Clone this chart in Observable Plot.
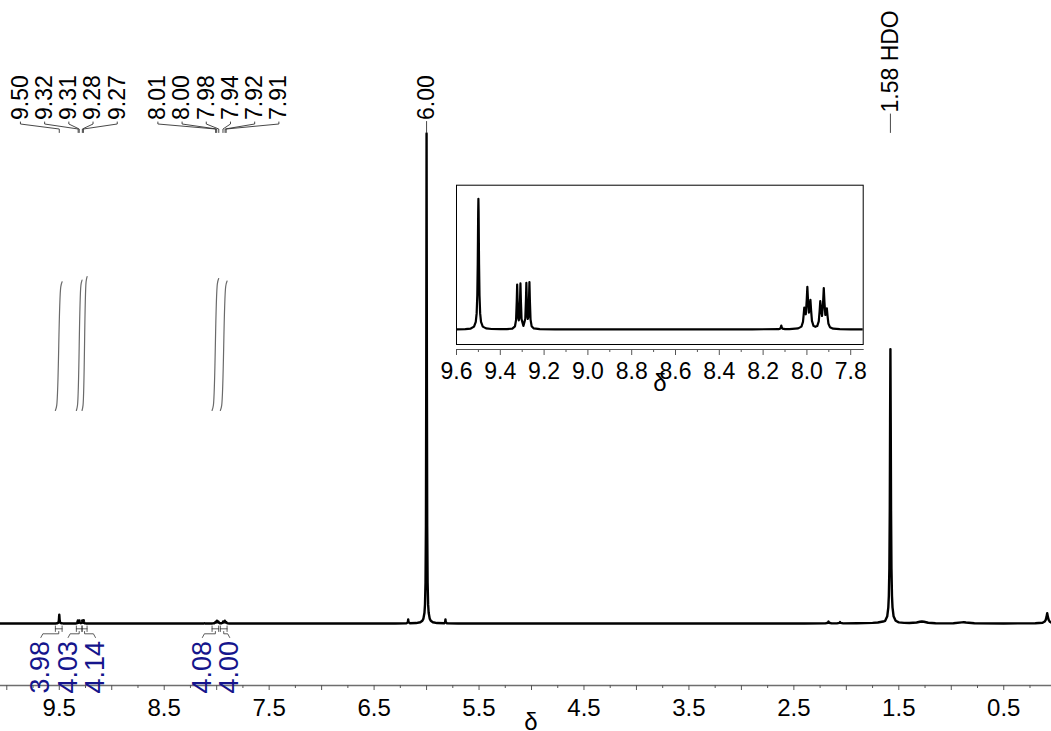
<!DOCTYPE html>
<html>
<head>
<meta charset="utf-8">
<script src="https://cdn.jsdelivr.net/npm/d3@7"></script>
<script src="https://cdn.jsdelivr.net/npm/@observablehq/plot@0.6"></script>
<style>
  html, body { margin: 0; padding: 0; background: #fff; }
  #chart { position: relative; width: 1051px; height: 731px; overflow: hidden; }
  #chart svg { position: absolute; }
</style>
</head>
<body>
<div id="chart"></div>
<script>
// ---------------- DATA ----------------
// spectrum points [chemical shift δ (ppm), relative intensity], main peak 6.00 = 100
const spectrumAromatic = [
  [10.06,0],[9.8,0.001],[9.6,0.003],[9.56,0.005],[9.535,0.013],[9.52,0.04],[9.512,0.106],[9.508,0.222],
  [9.505,0.476],[9.503,0.9],[9.502,1.246],[9.501,1.62],[9.5,1.8],[9.499,1.62],[9.498,1.246],[9.497,0.9],
  [9.495,0.476],[9.492,0.222],[9.488,0.106],[9.48,0.04],[9.465,0.015],[9.44,0.007],[9.4,0.004],[9.37,0.005],
  [9.345,0.013],[9.333,0.044],[9.328,0.133],[9.325,0.383],[9.323,0.62],[9.321,0.393],[9.318,0.16],[9.3155,0.126],
  [9.313,0.163],[9.31,0.40],[9.308,0.634],[9.306,0.394],[9.303,0.143],[9.2945,0.05],[9.286,0.145],[9.283,0.40],
  [9.281,0.643],[9.279,0.407],[9.276,0.174],[9.274,0.146],[9.272,0.175],[9.269,0.414],[9.267,0.654],[9.265,0.403],
  [9.262,0.14],[9.257,0.046],[9.247,0.015],[9.22,0.005],[9.15,0.003],[9.0,0.002],[8.8,0.002],[8.5,0.002],
  [8.25,0.003],[8.13,0.004],[8.122,0.012],[8.119,0.03],[8.117,0.055],[8.115,0.03],[8.112,0.012],[8.1,0.005],
  [8.08,0.006],[8.04,0.015],[8.025,0.04],[8.018,0.106],[8.015,0.197],[8.012,0.301],[8.009,0.235],[8.005,0.21],
  [8.001,0.397],[7.998,0.589],[7.995,0.404],[7.991,0.233],[7.987,0.303],[7.984,0.41],[7.981,0.267],[7.977,0.118],
  [7.97,0.05],[7.9615,0.037],[7.953,0.047],[7.946,0.112],[7.942,0.255],[7.939,0.39],[7.936,0.278],[7.931,0.186],
  [7.926,0.384],[7.923,0.571],[7.92,0.383],[7.916,0.2],[7.912,0.227],[7.909,0.291],[7.906,0.19],[7.902,0.083],
  [7.895,0.032],[7.88,0.011],[7.85,0.005],[7.8,0.003],[7.7,0.002]
];
const spectrumOlefinic = [
  [7.0,0.002],[6.6,0.005],[6.3,0.015],[6.19,0.05],[6.178,0.3],[6.175,0.85],[6.172,0.3],[6.16,0.06],
  [6.1,0.09],[6.06,0.25],[6.04,0.56],[6.03,1.0],[6.02,2.2],[6.015,3.85],[6.01,8.3],[6.006,20],[6.003,50],
  [6.0,100],[5.997,50],[5.994,20],[5.99,8.3],[5.985,3.85],[5.98,2.2],[5.97,1.0],[5.96,0.56],[5.94,0.25],
  [5.9,0.09],[5.83,0.06],[5.823,0.3],[5.82,0.85],[5.817,0.3],[5.805,0.04],[5.7,0.015],[5.4,0.005]
];
const spectrumAliphatic = [
  [5.0,0.003],[4.0,0.003],[3.0,0.003],[2.4,0.005],[2.2,0.03],[2.175,0.15],[2.17,0.4],[2.165,0.15],
  [2.14,0.03],[2.09,0.03],[2.065,0.12],[2.06,0.3],[2.055,0.12],[2.03,0.03],[1.9,0.04],[1.75,0.12],
  [1.7,0.2],[1.65,0.4],[1.63,0.55],[1.61,1.5],[1.6,3.3],[1.595,5.6],[1.59,11.2],[1.586,23],[1.583,41],
  [1.58,56],[1.577,41],[1.574,23],[1.57,11.2],[1.565,5.6],[1.56,3.3],[1.55,1.5],[1.53,0.55],[1.5,0.22],
  [1.45,0.12],[1.4,0.1],[1.33,0.2],[1.3,0.35],[1.28,0.42],[1.26,0.35],[1.22,0.15],[1.15,0.06],[1.05,0.03],
  [0.98,0.05],[0.9,0.22],[0.88,0.26],[0.86,0.2],[0.78,0.04],[0.5,0.01],[0.3,0.02],[0.2,0.05],[0.13,0.15],
  [0.11,0.4],[0.1,0.75],[0.093,1.3],[0.086,2.1],[0.079,1.3],[0.072,0.75],[0.06,0.35],[0.045,0.15]
];

// peak labels
const topLabelText  = ["9.50","9.32","9.31","9.28","9.27","8.01","8.00","7.98","7.94","7.92","7.91"];
const topLabelShift = [9.50, 9.32, 9.31, 9.28, 9.27, 8.01, 8.00, 7.98, 7.94, 7.92, 7.91];
const topLabelGroup = [0, 0, 0, 0, 0, 1, 1, 1, 1, 1, 1];
const singleLabelText  = ["6.00", "1.58 HDO"];
const singleLabelShift = [6.00, 1.58];

// integrals
const integralValue = [3.98, 4.03, 4.14, 4.08, 4.00];
const integralStart = [9.537, 9.337, 9.283, 8.044, 7.965];
const integralEnd   = [9.473, 9.283, 9.235, 7.981, 7.901];
const integralGroup = [0, 0, 0, 1, 1];

// axis ticks
const mainTickLabels   = [9.5, 8.5, 7.5, 6.5, 5.5, 4.5, 3.5, 2.5, 1.5, 0.5];
const mainIntegerTicks = [10, 9, 8, 7, 6, 5, 4, 3, 2, 1];
const mainQuarterTicks = [9.75, 9.25, 8.75, 8.25, 7.75, 7.25, 6.75, 6.25, 5.75, 5.25, 4.75, 4.25, 3.75, 3.25, 2.75, 2.25, 1.75, 1.25, 0.75, 0.25];
const insetTickLabels  = [9.6, 9.4, 9.2, 9.0, 8.8, 8.6, 8.4, 8.2, 8.0, 7.8];
const insetMinorTicks  = [9.5, 9.3, 9.1, 8.9, 8.7, 8.5, 8.3, 8.1, 7.9];

// ---------------- LAYOUT ----------------
const W = 1051, H = 731;
const AXIS_Y = 685;
const xDomain = [10.06, 0.045];
const yDomain = [0, 100];
const yRange = [623, 133];
const insetDomain = [9.6, 7.743];
const FONT = "'Liberation Sans', Arial, Helvetica, sans-serif";
const INTEGRAL_BLUE = "#15158c";

const xMain = d3.scaleLinear(xDomain, [0, W]);
const yMain = d3.scaleLinear(yDomain, yRange);

const spectrum = [...spectrumAromatic, ...spectrumOlefinic, ...spectrumAliphatic]
  .map(([shift, intensity]) => ({shift, intensity}));
const insetSpectrum = spectrum.filter(d => d.shift <= 9.7 && d.shift >= 7.65);

function spreadPx(centersPx, spacing, offset) {
  const mid = (d3.min(centersPx) + d3.max(centersPx)) / 2 + offset;
  return centersPx.map((_, i) => mid + (i - (centersPx.length - 1) / 2) * spacing);
}

// top peak labels
const topLabels = [];
for (const g of [0, 1]) {
  const idx = topLabelGroup.map((gg, i) => (gg === g ? i : -1)).filter(i => i >= 0);
  const lx = spreadPx(idx.map(i => xMain(topLabelShift[i])), 24.2, -2.5);
  idx.forEach((i, k) => topLabels.push({text: topLabelText[i], shift: topLabelShift[i], lx: lx[k], y0: 119.5, bend: true}));
}
const singleY = [119.5, 112];
singleLabelText.forEach((t, i) => topLabels.push({text: t, shift: singleLabelShift[i], lx: xMain(singleLabelShift[i]), y0: singleY[i], bend: false}));

const topConnectors = topLabels.flatMap((d, i) => {
  const px = xMain(d.shift);
  const pts = d.bend
    ? [[d.lx, 121.5], [d.lx, 123.5], [px, 128.5], [px, 132]]
    : [[px, d.y0 + 1.5], [px, 132]];
  return pts.map(([x, y]) => ({id: i, x: xMain.invert(x), y: yMain.invert(y)}));
});

// integrals
const INT_BASE = 410, INT_PX_PER_UNIT = 32.35;
const integralCurves = integralValue.flatMap((v, i) => {
  const s = integralStart[i], e = integralEnd[i], w = s - e;
  const h = v * INT_PX_PER_UNIT;
  return [[s, 0], [s - 0.2 * w, 0.04], [e + 0.2 * w, 0.96], [e, 1]]
    .map(([x, f]) => ({id: i, x, y: yMain.invert(INT_BASE - f * h)}));
});

const intLabels = [];
for (const g of [0, 1]) {
  const idx = integralGroup.map((gg, i) => (gg === g ? i : -1)).filter(i => i >= 0);
  const centers = idx.map(i => (xMain(integralStart[i]) + xMain(integralEnd[i])) / 2);
  const lx = spreadPx(centers, 27.3, -3.5);
  idx.forEach((i, k) => intLabels.push({text: integralValue[i].toFixed(2), lx: lx[k], c: centers[k], s: xMain(integralStart[i]), e: xMain(integralEnd[i])}));
}
const intMarks = intLabels.flatMap((d, i) => {
  const sign = d.c > d.lx ? 1 : -1;
  const segs = [
    [[d.s, 625.5], [d.s, 631]],
    [[d.e, 625.5], [d.e, 631]],
    [[d.s, 628.3], [d.e, 628.3]],
    [[d.c, 631], [d.c, 633.3], [d.lx + sign * 2, 633.3], [d.lx, 637]]
  ];
  return segs.flatMap((seg, j) => seg.map(([x, y]) => ({id: i * 10 + j, x: xMain.invert(x), y: yMain.invert(y)})));
});

// ---------------- MAIN PLOT ----------------
const main = Plot.plot({
  width: W, height: H,
  marginTop: 0, marginRight: 0, marginBottom: H - AXIS_Y, marginLeft: 0,
  x: {domain: xDomain, range: [0, W], label: null},
  y: {domain: yDomain, range: yRange, axis: null, label: null},
  style: {fontFamily: FONT, fontSize: "23px", background: "transparent", overflow: "hidden"},
  marks: [
    Plot.frame({anchor: "bottom", stroke: "#6e6e6e", strokeWidth: 1.5}),
    Plot.axisX({ticks: mainTickLabels, tickSize: 5, tickPadding: 8, tickFormat: d => d.toFixed(1), fontSize: 24, stroke: "#555"}),
    Plot.axisX({ticks: mainIntegerTicks, tickSize: 5, tickFormat: () => "", stroke: "#555"}),
    Plot.axisX({ticks: mainQuarterTicks, tickSize: 3, tickFormat: () => "", stroke: "#555"}),
    Plot.text(["δ"], {frameAnchor: "bottom", text: d => d, dx: 5, dy: 44, fontSize: 24, fill: "black"}),
    Plot.line(integralCurves, {x: "x", y: "y", z: "id", stroke: "#6a6a6a", strokeWidth: 1.2, curve: "catmull-rom"}),
    Plot.line(intMarks, {x: "x", y: "y", z: "id", stroke: "#333", strokeWidth: 0.8}),
    Plot.line(spectrum, {x: "shift", y: "intensity", stroke: "black", strokeWidth: 2.4, strokeLinejoin: "round"}),
    Plot.line(topConnectors, {x: "x", y: "y", z: "id", stroke: "#333", strokeWidth: 0.9}),
    Plot.text(topLabels, {x: d => xMain.invert(d.lx), y: d => yMain.invert(d.y0), text: "text", rotate: -90, textAnchor: "start", fontSize: 23, fill: "black"}),
    Plot.text(intLabels, {x: d => xMain.invert(d.lx), y: () => yMain.invert(693), text: "text", rotate: -90, textAnchor: "start", fontSize: 27, fill: INTEGRAL_BLUE})
  ]
});
main.style.left = "0px";
main.style.top = "0px";

// ---------------- INSET ----------------
const inset = Plot.plot({
  width: 430, height: 220,
  marginTop: 4.7, marginRight: 7.3, marginBottom: 51, marginLeft: 16,
  x: {domain: insetDomain, label: null},
  y: {domain: [0, 1.8], range: [149, 18.3], axis: null, label: null},
  style: {fontFamily: FONT, fontSize: "23px", background: "white"},
  marks: [
    Plot.line(insetSpectrum, {x: "shift", y: "intensity", stroke: "black", strokeWidth: 2.2, strokeLinejoin: "round", clip: true}),
    Plot.frame({stroke: "black", strokeWidth: 1, insetBottom: 5}),
    Plot.frame({anchor: "bottom", stroke: "#555"}),
    Plot.axisX({ticks: insetTickLabels, tickSize: 6, tickPadding: 7, tickFormat: d => d.toFixed(1), fontSize: 23, stroke: "#555"}),
    Plot.axisX({ticks: insetMinorTicks, tickSize: 3, tickFormat: () => "", stroke: "#555"}),
    Plot.text(["δ"], {frameAnchor: "bottom", text: d => d, dy: 41, fontSize: 24, fill: "black"})
  ]
});
inset.style.left = "440px";
inset.style.top = "180px";

const chart = document.getElementById("chart");
chart.append(main);
chart.append(inset);
</script>
</body>
</html>
